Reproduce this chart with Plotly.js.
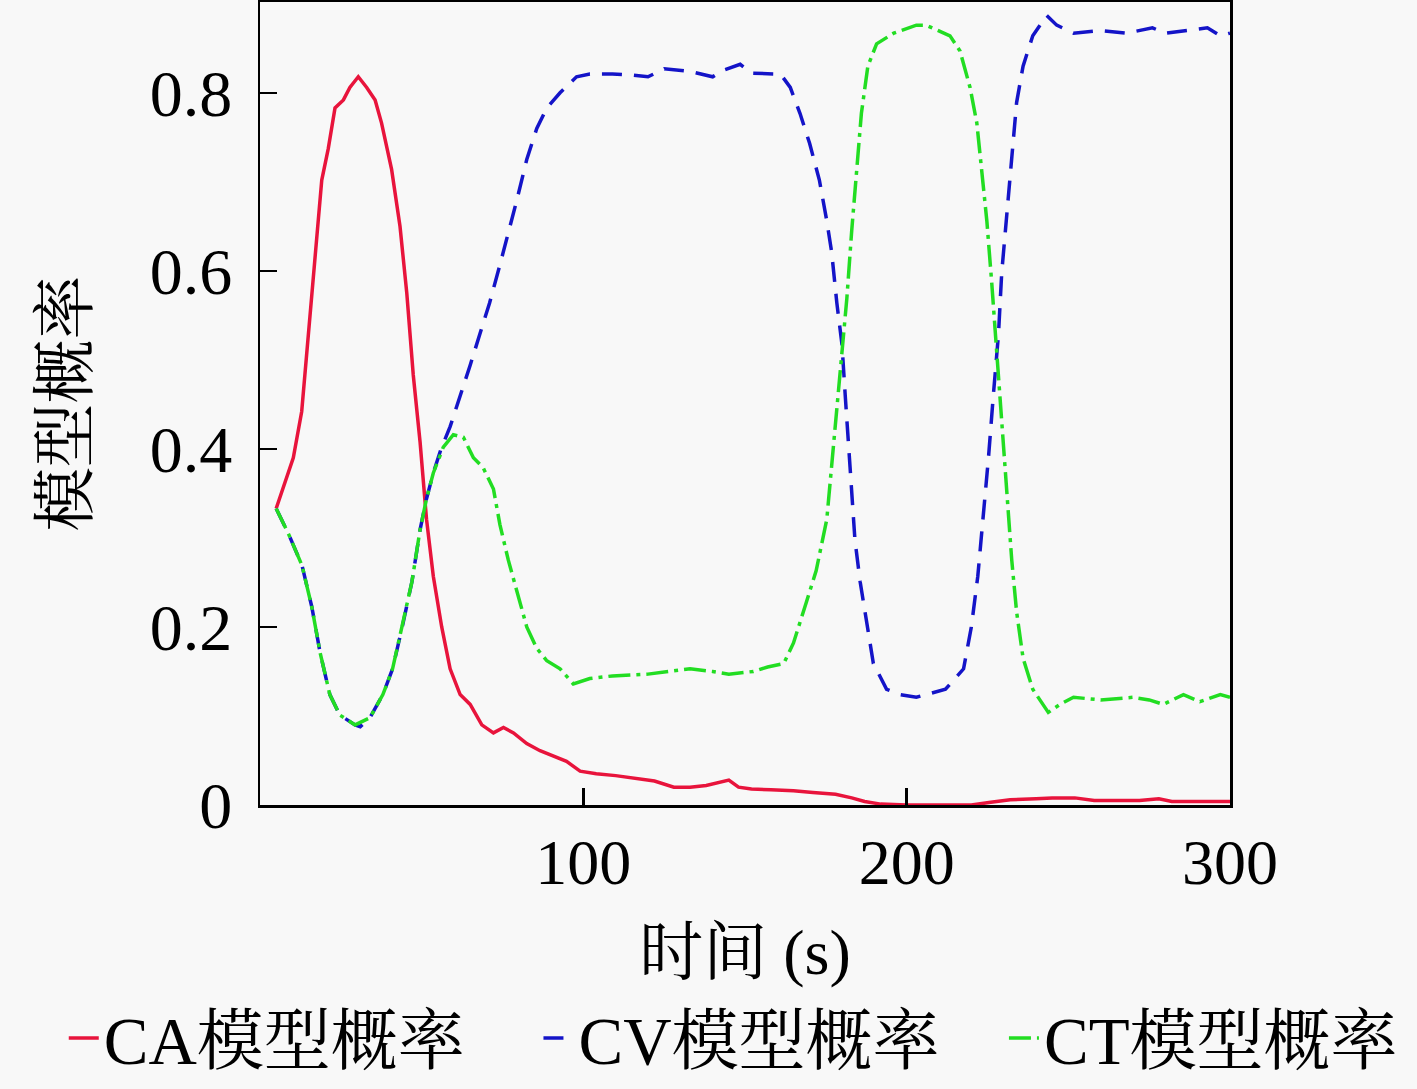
<!DOCTYPE html>
<html>
<head>
<meta charset="utf-8">
<script src="https://cdn.plot.ly/plotly-3.0.1.min.js"></script>
<style>
  html, body { margin: 0; padding: 0; background: #f8f8f8; }
  #chart { width: 1417px; height: 1089px; }
</style>
</head>
<body>
<div id="chart"></div>
<script>
// model probabilities (time in s)
var caTime = [5, 7.7, 10.3, 12.9, 14.4, 16, 17.5, 19.1, 21.1, 23.2, 25.8, 27.8, 30.4, 33, 35.6, 37.6, 40.7, 43.3, 45.4, 47.4,
  49.5, 51.5, 53.6, 56.2, 58.8, 61.9, 65, 68.6, 72.2, 75.3, 78.4, 82.5, 86.6, 90.7, 94.8, 99, 104, 110, 116, 122,
  128, 133, 138, 142, 145, 148, 152, 158, 165, 171, 178, 183, 187, 192, 200, 210, 220, 226, 232, 240,
  245, 252, 258, 265, 272, 278, 282, 290, 300];
var caProb = [0.333, 0.361, 0.39, 0.442, 0.506, 0.575, 0.645, 0.702, 0.737, 0.783, 0.792, 0.806, 0.818, 0.806, 0.792, 0.766, 0.714, 0.65, 0.575, 0.483,
  0.408, 0.321, 0.257, 0.2, 0.153, 0.124, 0.113, 0.09, 0.081, 0.087, 0.081, 0.069, 0.061, 0.055, 0.049, 0.038, 0.035, 0.033, 0.03, 0.027,
  0.02, 0.02, 0.022, 0.025, 0.028, 0.02, 0.018, 0.017, 0.016, 0.014, 0.012, 0.008, 0.004, 0.001, 0, 0, 0, 0.003, 0.006, 0.007,
  0.008, 0.008, 0.005, 0.005, 0.005, 0.007, 0.004, 0.004, 0.004];

var cvTime = [5, 9, 13, 16, 18.6, 21.6, 24.7, 29.4, 31, 34, 38, 41, 44, 47, 49.5, 51.5, 53.6, 56, 58.8, 62,
  65, 68, 71, 74, 77, 79.4, 82.5, 85.6, 88.7, 92.8, 97.9, 102, 109, 115, 120, 125, 133, 140, 143, 148.5,
  152, 157, 161, 164, 167, 170, 173, 175.3, 176.8, 178.4, 180, 181, 182, 183, 184, 185.6, 187.6, 189.7, 193.8, 198,
  203, 206, 212, 217.6, 220, 222, 223.7, 225.3, 226.8, 228.4, 229.4, 231, 232.5, 234, 236, 239, 243.3, 246.4, 251.6, 260,
  268, 276, 280, 287, 293, 297, 300];
var cvProb = [0.333, 0.303, 0.269, 0.223, 0.171, 0.124, 0.101, 0.09, 0.088, 0.098, 0.124, 0.153, 0.2, 0.251, 0.309, 0.344, 0.373, 0.4, 0.425, 0.46,
  0.494, 0.529, 0.564, 0.604, 0.645, 0.679, 0.725, 0.76, 0.783, 0.8, 0.818, 0.821, 0.821, 0.82, 0.818, 0.827, 0.824, 0.818, 0.825, 0.832,
  0.822, 0.821, 0.821, 0.806, 0.777, 0.743, 0.702, 0.656, 0.621, 0.564, 0.517, 0.46, 0.402, 0.344, 0.298, 0.251, 0.205, 0.159, 0.13, 0.124,
  0.121, 0.124, 0.13, 0.153, 0.2, 0.257, 0.321, 0.39, 0.46, 0.529, 0.598, 0.668, 0.731, 0.789, 0.83, 0.864, 0.887, 0.876, 0.867, 0.87,
  0.867, 0.873, 0.867, 0.87, 0.873, 0.864, 0.867];

var ctTime = [5, 9, 13, 16, 18.6, 21.6, 24.7, 29.4, 34, 38, 41, 44, 47, 49.5, 51.5, 53.6, 56.7, 59.8, 62.9, 66,
  69, 72.2, 74.2, 76.8, 79.4, 82.5, 85.6, 88.7, 92.8, 96.9, 102, 109, 120, 133, 140, 145, 152.6, 157, 162, 165,
  169, 172, 175.3, 176.8, 178.4, 180, 181.5, 183, 184.5, 186, 188, 190.7, 196, 203, 206, 213.4, 216.5, 219.6, 221.7, 223.2,
  224.8, 226.3, 227.9, 229.4, 231, 232.5, 234, 236, 239, 243.8, 247.4, 251.6, 260, 270, 275, 279.4, 285.6, 290.7, 297, 300];
var ctProb = [0.333, 0.303, 0.269, 0.223, 0.171, 0.124, 0.101, 0.09, 0.098, 0.124, 0.153, 0.2, 0.251, 0.309, 0.344, 0.373, 0.402, 0.416, 0.413, 0.39,
  0.379, 0.355, 0.315, 0.275, 0.24, 0.2, 0.176, 0.162, 0.153, 0.136, 0.142, 0.145, 0.147, 0.153, 0.15, 0.147, 0.15, 0.155, 0.159, 0.182,
  0.228, 0.263, 0.321, 0.379, 0.448, 0.506, 0.569, 0.645, 0.714, 0.777, 0.83, 0.855, 0.867, 0.876, 0.876, 0.864, 0.847, 0.806, 0.766, 0.714,
  0.656, 0.587, 0.506, 0.425, 0.344, 0.275, 0.217, 0.165, 0.13, 0.104, 0.113, 0.121, 0.118, 0.121, 0.118, 0.113, 0.124, 0.116, 0.124, 0.121];

var seriesNames = ['CA模型概率', 'CV模型概率', 'CT模型概率'];
var xTicks = [100, 200, 300];
var yTicks = [0, 0.2, 0.4, 0.6, 0.8];

var fontFamily = "'Liberation Serif', 'Noto Serif CJK SC', 'Noto Sans CJK SC', serif";

var data = [
  { x: caTime, y: caProb, name: seriesNames[0], type: 'scatter', mode: 'lines', legend: 'legend',
    line: { color: '#e8143c', width: 3.5 } },
  { x: cvTime, y: cvProb, name: seriesNames[1], type: 'scatter', mode: 'lines', legend: 'legend2',
    line: { color: '#1414c8', width: 3.5, dash: '20px,12px' } },
  { x: ctTime, y: ctProb, name: seriesNames[2], type: 'scatter', mode: 'lines', legend: 'legend3',
    line: { color: '#22dd22', width: 3.5, dash: '22px,6px,4px,6px' } }
];

// one legend box per series so the three entries sit on one row
function legendBox(xPos) {
  return {
    orientation: 'h',
    xref: 'container', yref: 'container',
    x: xPos, xanchor: 'left',
    y: -0.012, yanchor: 'bottom',
    font: { family: fontFamily, size: 67 },
    bgcolor: 'rgba(0,0,0,0)',
    itemwidth: 30
  };
}

var layout = {
  width: 1417,
  height: 1089,
  margin: { l: 260, r: 187, t: 2, b: 284 },
  paper_bgcolor: '#f8f8f8',
  plot_bgcolor: '#f8f8f8',
  font: { family: fontFamily, color: '#000', size: 62 },
  showlegend: true,
  legend: legendBox(0.045),
  legend2: legendBox(0.38),
  legend3: legendBox(0.7085),
  xaxis: {
    range: [0, 300],
    tickvals: xTicks,
    ticks: 'inside', ticklen: 17, tickwidth: 2.5, tickcolor: '#000',
    showline: true, linewidth: 2.5, linecolor: '#000', mirror: true,
    showgrid: false, zeroline: false,
    tickfont: { size: 64 },
    title: { text: '时间 (s)', font: { size: 64 }, standoff: 42 }
  },
  yaxis: {
    range: [0, 0.902],
    tickvals: yTicks,
    ticks: 'inside', ticklen: 17, tickwidth: 2.5, tickcolor: '#000',
    ticklabelstandoff: 12,
    showline: true, linewidth: 2.5, linecolor: '#000', mirror: true,
    showgrid: false, zeroline: false,
    tickfont: { size: 66 },
    title: { text: '模型概率', font: { size: 64 }, standoff: 42 }
  }
};

Plotly.newPlot('chart', data, layout, { displayModeBar: false, staticPlot: true });
</script>
</body>
</html>
